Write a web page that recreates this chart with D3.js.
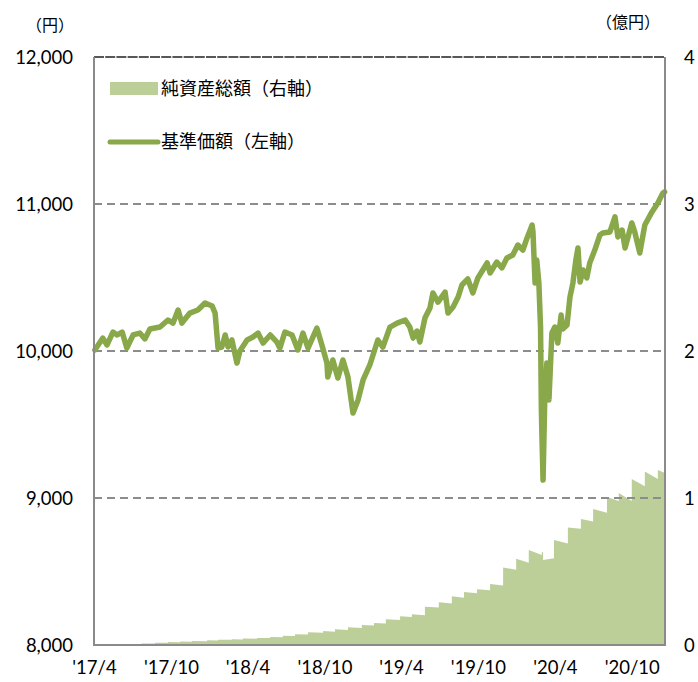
<!DOCTYPE html>
<html>
<head>
<meta charset="utf-8">
<script src="https://cdn.jsdelivr.net/npm/d3@7/dist/d3.min.js"></script>
<style>
  html, body { margin: 0; padding: 0; background: #fff; }
  svg { display: block; }
  .num { font-family: Lato, "Noto Sans", "Liberation Sans", sans-serif; font-size: 18.5px; fill: #000; }
  .jp { font-family: "Noto Sans CJK JP", "Noto Sans CJK SC", sans-serif; fill: #000; }
</style>
</head>
<body>
<script>
// ---- Data ----
const navDates = [
  "2017-04-03","2017-04-22","2017-05-02","2017-05-16","2017-05-26","2017-06-07","2017-06-18","2017-07-03",
  "2017-07-19","2017-07-31","2017-08-12","2017-09-05","2017-09-24","2017-10-06","2017-10-18","2017-10-27",
  "2017-11-15","2017-12-04","2017-12-21","2018-01-07","2018-01-14","2018-01-21","2018-01-30","2018-02-07",
  "2018-02-14","2018-02-23","2018-03-07","2018-03-14","2018-03-31","2018-04-14","2018-04-26","2018-05-08",
  "2018-05-25","2018-06-10","2018-06-17","2018-06-29","2018-07-16","2018-07-30","2018-08-11","2018-08-23",
  "2018-09-13","2018-09-25","2018-10-07","2018-10-09","2018-10-21","2018-11-02","2018-11-14","2018-11-26",
  "2018-12-08","2018-12-20","2019-01-01","2019-01-17","2019-02-05","2019-02-17","2019-03-06","2019-03-23",
  "2019-04-11","2019-04-22","2019-04-30","2019-05-09","2019-05-16","2019-05-28","2019-06-09","2019-06-16",
  "2019-06-28","2019-07-15","2019-07-22","2019-08-03","2019-08-15","2019-08-24","2019-09-07","2019-09-19",
  "2019-10-01","2019-10-23","2019-10-30","2019-11-15","2019-11-27","2019-12-09","2019-12-23","2020-01-04",
  "2020-01-16","2020-01-26","2020-02-07","2020-02-09","2020-02-14","2020-02-18","2020-02-23","2020-02-27",
  "2020-02-29","2020-03-01","2020-03-04","2020-03-08","2020-03-13","2020-03-18","2020-03-25","2020-04-01",
  "2020-04-08","2020-04-16","2020-04-20","2020-04-30","2020-05-07","2020-05-14","2020-05-21","2020-05-26",
  "2020-05-31","2020-06-07","2020-06-16","2020-06-23","2020-07-05","2020-07-17","2020-07-24","2020-08-10",
  "2020-08-22","2020-08-29","2020-09-08","2020-09-15","2020-10-01","2020-10-08","2020-10-20","2020-11-01",
  "2020-11-18","2020-12-02","2020-12-14","2020-12-18"
];
const navValues = [
  10007,10088,10041,10129,10109,10129,10020,10109,
  10122,10082,10150,10163,10211,10190,10279,10190,
  10258,10279,10327,10306,10258,10020,10027,10109,
  10027,10075,9918,10000,10075,10095,10122,10054,
  10109,10061,10020,10129,10109,10007,10122,10020,
  10156,10041,9918,9823,9939,9816,9939,9823,
  9578,9667,9803,9905,10075,10027,10163,10190,
  10211,10163,10088,10136,10061,10224,10293,10395,
  10333,10401,10258,10299,10367,10449,10490,10395,
  10497,10599,10531,10605,10565,10633,10653,10721,
  10687,10769,10857,10810,10463,10619,10463,10163,
  9599,9463,9122,9667,9918,9667,10122,10163,
  10054,10245,10150,10177,10367,10463,10619,10701,
  10469,10551,10497,10599,10687,10789,10803,10810,
  10912,10776,10823,10701,10871,10810,10667,10857,
  10946,11007,11075,11082
];

// 純資産総額（億円）: value right after each monthly inflow and just before the next one
const areaDates = [
  "2017-04-03","2017-07-23","2017-08-24","2017-09-24","2017-10-23","2017-11-20","2017-12-26",
  "2018-01-21","2018-02-23","2018-03-21","2018-04-24","2018-05-25","2018-06-24","2018-07-23",
  "2018-08-23","2018-09-28","2018-10-26","2018-11-26","2018-12-29","2019-01-27","2019-02-24",
  "2019-03-30","2019-04-27","2019-05-28","2019-06-30","2019-07-31","2019-08-29","2019-09-29",
  "2019-10-30","2019-11-30","2019-12-31","2020-01-30","2020-03-01","2020-03-04","2020-03-30",
  "2020-05-02","2020-06-02","2020-07-01","2020-08-03","2020-08-31","2020-10-01","2020-11-01",
  "2020-12-02"
];
const areaOpen = [
  0.004,0.011,0.016,0.020,0.023,0.027,0.032,
  0.036,0.039,0.045,0.048,0.054,0.063,0.073,
  0.086,0.095,0.107,0.120,0.136,0.150,0.175,
  0.195,0.209,0.261,0.290,0.331,0.361,0.379,
  0.415,0.528,0.587,0.646,0.635,0.578,0.714,
  0.800,0.857,0.925,1.007,1.034,1.130,1.180,
  1.190
];
const areaClose = [
  0.005,0.011,0.015,0.019,0.022,0.026,0.031,
  0.035,0.038,0.043,0.047,0.053,0.061,0.071,
  0.083,0.090,0.102,0.115,0.132,0.146,0.170,
  0.190,0.203,0.255,0.283,0.322,0.352,0.372,
  0.405,0.512,0.560,0.612,0.630,0.590,0.690,
  0.790,0.840,0.900,0.980,0.980,1.080,1.130,
  1.170
];
const areaEnd = "2020-12-19";

const xStart = "2017-04-01", xEnd = "2020-12-19";
const xTickDates = ["2017-04-01","2017-10-01","2018-04-01","2018-10-01","2019-04-01","2019-10-01","2020-04-01","2020-10-01"];
const xTickLabels = ["'17/4","'17/10","'18/4","'18/10","'19/4","'19/10","'20/4","'20/10"];
const leftTicks = [8000, 9000, 10000, 11000, 12000];
const rightTicks = [0, 1, 2, 3, 4];
const legendLabels = ["純資産総額（右軸）", "基準価額（左軸）"];
const leftUnit = "（円）", rightUnit = "（億円）";

// ---- Chart ----
const W = 698, H = 682;
const L = 94, R = 665, T = 57, B = 645;
const parse = d3.timeParse("%Y-%m-%d");
const lineColor = "#88A84A", areaColor = "#BCCF99", gridColor = "#8C8C8C", axisColor = "#8A8A8A";

const svg = d3.select("body").append("svg").attr("width", W).attr("height", H);

const x = d3.scaleTime().domain([parse(xStart), parse(xEnd)]).range([L, R]);
const yL = d3.scaleLinear().domain([8000, 12000]).range([B, T]);
const yR = d3.scaleLinear().domain([0, 4]).range([B, T]);

// area series (sawtooth built from monthly open/close values)
const areaPts = [];
areaDates.forEach((d, i) => {
  const next = i + 1 < areaDates.length ? areaDates[i + 1] : areaEnd;
  areaPts.push([parse(d), areaOpen[i]]);
  areaPts.push([parse(next), areaClose[i]]);
});
svg.append("path")
  .datum(areaPts)
  .attr("fill", areaColor)
  .attr("d", d3.area().x(d => x(d[0])).y0(yR(0)).y1(d => yR(d[1])));

// gridlines
svg.append("g").selectAll("line")
  .data(leftTicks.filter(v => v > 8000 && v < 12000))
  .join("line")
  .attr("x1", L).attr("x2", R)
  .attr("y1", d => yL(d)).attr("y2", d => yL(d))
  .attr("stroke", gridColor).attr("stroke-width", 2)
  .attr("stroke-dasharray", "8,5");

// top line (12,000)
svg.append("line")
  .attr("x1", L).attr("x2", R).attr("y1", yL(12000)).attr("y2", yL(12000))
  .attr("stroke", "#222").attr("stroke-width", 1.6).attr("stroke-dasharray", "10,1.2");

// NAV line
const navData = navDates.map((d, i) => [parse(d), navValues[i]]);
svg.append("path")
  .datum(navData)
  .attr("fill", "none")
  .attr("stroke", lineColor)
  .attr("stroke-width", 5.5)
  .attr("stroke-linejoin", "round")
  .attr("stroke-linecap", "round")
  .attr("d", d3.line().x(d => x(d[0])).y(d => yL(d[1])));

// frame: left, right, bottom
svg.append("line").attr("x1", L).attr("x2", L).attr("y1", T).attr("y2", B + 1)
  .attr("stroke", axisColor).attr("stroke-width", 2);
svg.append("line").attr("x1", R).attr("x2", R).attr("y1", T).attr("y2", B + 1)
  .attr("stroke", axisColor).attr("stroke-width", 2);
svg.append("line").attr("x1", L - 1).attr("x2", R + 1).attr("y1", B).attr("y2", B)
  .attr("stroke", axisColor).attr("stroke-width", 2);

// axes (labels)
const axL = svg.append("g").attr("transform", `translate(${L},0)`)
  .call(d3.axisLeft(yL).tickValues(leftTicks).tickSize(0).tickPadding(21).tickFormat(d3.format(",")));
const axR = svg.append("g").attr("transform", `translate(${R},0)`)
  .call(d3.axisRight(yR).tickValues(rightTicks).tickSize(0).tickPadding(19).tickFormat(d3.format("d")));
const axB = svg.append("g").attr("transform", `translate(0,${B})`)
  .call(d3.axisBottom(x).tickValues(xTickDates.map(parse)).tickSize(0).tickPadding(13)
    .tickFormat((d, i) => xTickLabels[i]));
[axL, axR, axB].forEach(g => {
  g.select(".domain").remove();
  g.selectAll("text").attr("class", "num").attr("font-family", null).attr("font-size", null);
});
axL.selectAll("text").attr("dy", "0.35em");
axR.selectAll("text").attr("dy", "0.35em");
axB.selectAll("text").attr("dy", "0.85em");

// units
svg.append("text").attr("class", "jp").attr("x", 50).attr("y", 31)
  .attr("text-anchor", "middle").attr("font-size", 16).text(leftUnit);
svg.append("text").attr("class", "jp").attr("x", 628).attr("y", 28)
  .attr("text-anchor", "middle").attr("font-size", 16).text(rightUnit);

// legend
svg.append("rect").attr("x", 110).attr("y", 82).attr("width", 48).attr("height", 13).attr("fill", areaColor);
svg.append("text").attr("class", "jp").attr("x", 161).attr("y", 89).attr("dy", "0.36em")
  .attr("font-size", 18).text(legendLabels[0]);
svg.append("line").attr("x1", 110).attr("x2", 158).attr("y1", 142).attr("y2", 142)
  .attr("stroke", lineColor).attr("stroke-width", 5).attr("stroke-linecap", "round");
svg.append("text").attr("class", "jp").attr("x", 161).attr("y", 142).attr("dy", "0.36em")
  .attr("font-size", 18).text(legendLabels[1]);
</script>
</body>
</html>
